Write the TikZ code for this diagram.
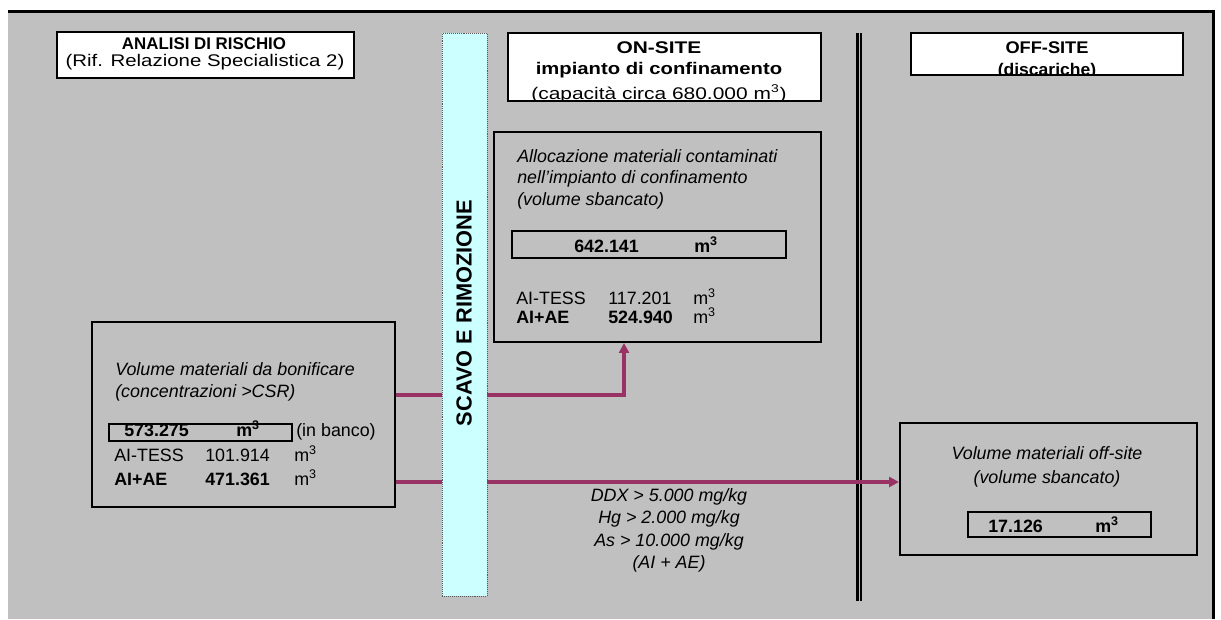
\documentclass[tikz,border=0pt]{standalone}
\usepackage{fontspec}
\setmainfont{Liberation Sans}
\usetikzlibrary{arrows.meta,fit}

\definecolor{sheetgray}{HTML}{C0C0C0}
\definecolor{plum}{HTML}{993366}
\definecolor{palecyan}{HTML}{CCFFFF}

\tikzset{
  hdrbox/.style={draw, fill=white, line width=0.8pt, inner sep=0pt},
  volbox/.style={draw, line width=1.4pt, inner sep=0pt},
  valbox/.style={draw, line width=1.5pt, inner sep=0pt},
  flow/.style={draw=plum, line width=2.2pt},
  txt/.style={inner sep=0pt, font=\fontsize{12.7}{15}\selectfont},
  hdr/.style={inner sep=0pt, anchor=base, font=\fontsize{12}{14.4}\selectfont},
  lt/.style={txt, anchor=base west},
  ct/.style={txt, anchor=base},
}
\newcommand{\cubm}{m\textsuperscript{3}}
\newcommand{\wide}[2]{\scalebox{#1}[1]{#2}}

\begin{document}
\begin{tikzpicture}[x=0.025cm, y=-0.025cm]
    \useasboundingbox (0,0) rectangle (1221,619);
    % foglio
    \fill[sheetgray] (8,12) rectangle (1213,619);
    \draw[line width=2.6pt] (8,11.5) -- (1213.5,11.5) -- (1213.5,619);

    % intestazioni
    \node[hdrbox, fit={(57,32) (354,78)}] (hdrRisk) {};
    \node[hdr] (hdrRiskA) at (204,49) {\bfseries ANALISI DI RISCHIO};
    \node[hdr] (hdrRiskB) at (205,66) {\wide{1.21}{(Rif. Relazione Specialistica 2)}};

    \node[hdrbox, fit={(508,33) (821,101)}] (hdrOn) {};
    \begin{scope}
        \clip (508,33) rectangle (821,101);
        \node[hdr] (hdrOnA) at (659,53) {\wide{1.24}{\bfseries ON-SITE}};
        \node[hdr] (hdrOnB) at (659,74) {\wide{1.2}{\bfseries impianto di confinamento}};
        \node[hdr] (hdrOnC) at (659,99) {\wide{1.24}{(capacità circa 680.000 \cubm)}};
    \end{scope}
    \draw[line width=0.8pt] (hdrOn.south west) -- (hdrOn.south east);

    \node[hdrbox, fit={(911,33) (1183,75)}] (hdrOff) {};
    \begin{scope}
        \clip (911,33) rectangle (1183,75);
        \node[hdr] (hdrOffA) at (1047,53) {\wide{1.08}{\bfseries OFF-SITE}};
        \node[hdr] (hdrOffB) at (1047,75) {\wide{1.04}{\bfseries (discariche)}};
    \end{scope}
    \draw[line width=0.8pt] (hdrOff.south west) -- (hdrOff.south east);

    % separazione on-site / off-site
    \draw[double=sheetgray, double distance=0.6pt, line width=1.8pt] (859,33) -- (859,601);

    % volumi da bonificare
    \node[volbox, fit={(92,322) (395,507)}] (boxRisk) {};
    \node[lt] (riskA) at (115,375) {\itshape Volume materiali da bonificare};
    \node[lt] (riskB) at (115,397) {\itshape (concentrazioni >CSR)};
    \node[valbox, fit={(109,424) (292,441)}] (valRisk) {};
    \node[lt] (valRiskN) at (124,436) {\bfseries 573.275};
    \node[lt] (valRiskU) at (236,436) {\bfseries\cubm};
    \node[lt] (valRiskB) at (296,436) {(in banco)};
    \node[lt] (tessRisk) at (114,461) {AI-TESS};
    \node[lt] (tessRiskN) at (205,461) {101.914};
    \node[lt] (tessRiskU) at (294,461) {\cubm};
    \node[lt] (aeRisk) at (114,485) {\bfseries AI+AE};
    \node[lt] (aeRiskN) at (205,485) {\bfseries 471.361};
    \node[lt] (aeRiskU) at (294,485) {\cubm};

    % impianto di confinamento
    \node[volbox, fit={(494,132) (821,342)}] (boxOn) {};
    \node[lt] (onA) at (517,162) {\itshape Allocazione materiali contaminati};
    \node[lt] (onB) at (517,183) {\itshape nell'impianto di confinamento};
    \node[lt] (onC) at (517,205) {\itshape (volume sbancato)};
    \node[valbox, fit={(512,231) (786,258)}] (valOn) {};
    \node[lt] (valOnN) at (574,252) {\bfseries 642.141};
    \node[lt] (valOnU) at (694,252) {\bfseries\cubm};
    \node[lt] (tessOn) at (516,304) {AI-TESS};
    \node[lt] (tessOnN) at (608,304) {117.201};
    \node[lt] (tessOnU) at (693,304) {\cubm};
    \node[lt] (aeOn) at (516,323) {\bfseries AI+AE};
    \node[lt] (aeOnN) at (608,323) {\bfseries 524.940};
    \node[lt] (aeOnU) at (693,323) {\cubm};

    % discariche
    \node[volbox, fit={(900,423) (1197,555)}] (boxOff) {};
    \node[ct] (offA) at (1047,459) {\itshape Volume materiali off-site};
    \node[ct] (offB) at (1047,483) {\itshape (volume sbancato)};
    \node[valbox, fit={(968,512) (1151,537)}] (valOff) {};
    \node[lt] (valOffN) at (988,532) {\bfseries 17.126};
    \node[lt] (valOffU) at (1095,532) {\bfseries\cubm};

    % flussi
    \coordinate (rowUp) at (0,395);
    \coordinate (rowLow) at (0,482);
    \coordinate (bendUp) at (624,0);
    \draw[flow, -{Triangle[length=7pt, width=7pt]}] (boxRisk.east |- rowUp) -| (bendUp |- boxOn.south);
    \draw[flow, -{Triangle[length=7pt, width=7pt]}] (boxRisk.east |- rowLow) -- (boxOff.west |- rowLow);
    \node[ct] (limA) at (669,501) {\itshape DDX > 5.000 mg/kg};
    \node[ct] (limB) at (669,523) {\itshape Hg > 2.000 mg/kg};
    \node[ct] (limC) at (669,546) {\itshape As > 10.000 mg/kg};
    \node[ct] (limD) at (669,568) {\itshape (AI + AE)};

    % scavo e rimozione
    \node[fill=palecyan, draw=gray!70!black, densely dotted, thin, inner sep=0pt, fit={(442,33) (487,596)}] (colScavo) {};
    \node[rotate=90, inner sep=0pt, font=\bfseries\fontsize{15.5}{18}\selectfont] (colScavoT) at (464,313) {SCAVO E RIMOZIONE};
\end{tikzpicture}
\end{document}
